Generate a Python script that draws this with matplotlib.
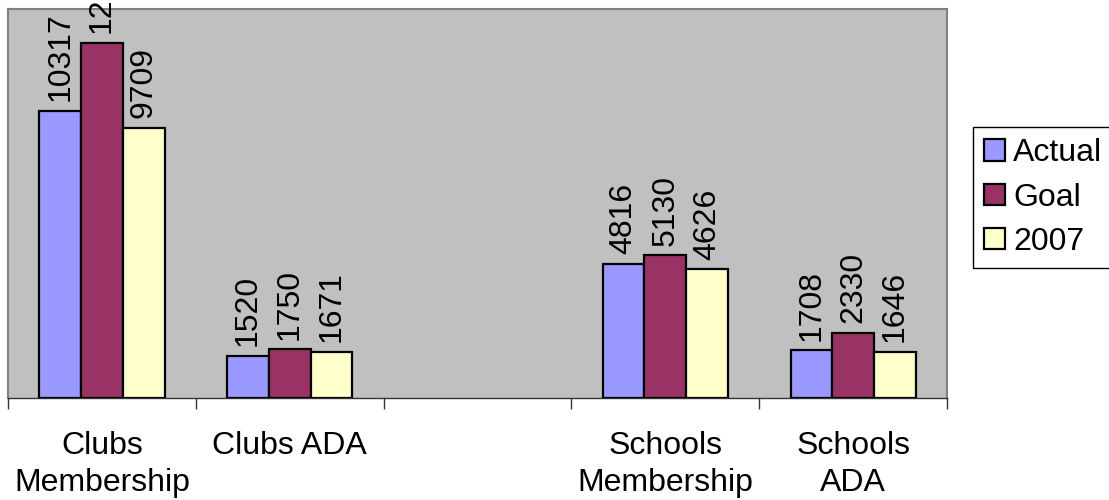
import numpy as np
import matplotlib
matplotlib.use("Agg")
import matplotlib.pyplot as plt

plt.rcParams['font.family'] = ['Liberation Sans', 'DejaVu Sans']

# chart data (third category is an empty spacer in the original)
categories = ['Clubs\nMembership', 'Clubs ADA', '', 'Schools\nMembership', 'Schools\nADA']
actual = [10317, 1520, np.nan, 4816, 1708]
goal = [12775, 1750, np.nan, 5130, 2330]
prev_2007 = [9709, 1671, np.nan, 4626, 1646]
series_names = ['Actual', 'Goal', '2007']
colors = ['#9999FF', '#993366', '#FFFFCC']

fig = plt.figure(figsize=(11.09, 5.00), dpi=100)
ax = fig.add_axes([8 / 1109, 1 - 398 / 500, 939 / 1109, 389.5 / 500])
ax.set_facecolor('#C0C0C0')

x = np.arange(len(categories))
width = 1 / 4.5  # Excel gap width 150%
fs = 23

for i, (vals, name, col) in enumerate(zip([actual, goal, prev_2007], series_names, colors)):
    vals = np.array(vals, dtype=float)
    ok = ~np.isnan(vals)
    pos = x[ok] + (i - 1) * width
    ax.bar(pos, vals[ok], width, color=col, edgecolor='black', linewidth=1.6,
           label=name, zorder=3)
    for px, v in zip(pos, vals[ok]):
        ax.annotate(f'{int(v)}', (px, v), xytext=(0, 7), textcoords='offset points',
                    rotation=90, ha='center', va='bottom', fontsize=fs,
                    annotation_clip=False)

ax.set_xlim(-0.5, len(categories) - 0.5)
ax.set_ylim(0, 14000)
ax.set_yticks([])

# category labels at centres, tick marks between categories
ax.set_xticks(x)
ax.set_xticklabels(categories, fontsize=fs, linespacing=1.3)
ax.tick_params(axis='x', which='major', length=0, pad=24)
ax.set_xticks(np.arange(-0.5, len(categories)), minor=True)
ax.tick_params(axis='x', which='minor', length=8, width=1, color='#333333')

for side in ['top', 'left', 'right']:
    ax.spines[side].set_color('#808080')
    ax.spines[side].set_linewidth(1.5)
ax.spines['bottom'].set_color('#333333')
ax.spines['bottom'].set_linewidth(1)

leg = ax.legend(loc='upper left', bbox_to_anchor=(973 / 1109, 1 - 127 / 500),
                bbox_transform=fig.transFigure, fontsize=fs, frameon=True,
                fancybox=False, edgecolor='black', framealpha=1,
                handlelength=0.65, handleheight=0.65, handletextpad=0.25,
                labelspacing=0.45, borderpad=0.35, borderaxespad=0)
leg.get_frame().set_linewidth(1)

fig.savefig('out.png', dpi=100)
